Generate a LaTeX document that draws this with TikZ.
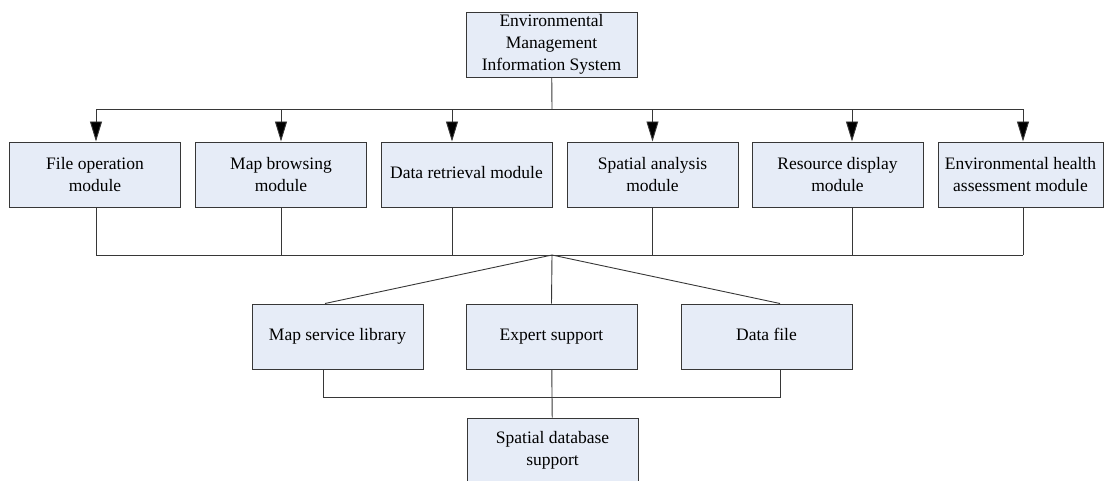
\documentclass[tikz,border=0pt]{standalone}
\usepackage{fontspec}
\setmainfont{Liberation Serif}
\usetikzlibrary{calc}
\usetikzlibrary{arrows.meta}
\usetikzlibrary{positioning}
\definecolor{boxfill}{RGB}{230,236,247}
\definecolor{boxline}{RGB}{55,55,55}

\begin{document}
\begin{tikzpicture}[x=1pt,y=-1pt,
  every node/.style={font=\fontsize{17.5}{22}\selectfont},
  modbox/.style={draw=boxline,fill=boxfill,line width=1pt,minimum width=171pt,minimum height=65pt,inner sep=0pt,align=center},
  link/.style={draw=boxline,line width=0.9pt},
  arr/.style={link,-{Triangle[width=12pt,length=20pt,fill=black]}}]
\useasboundingbox (0,0) rectangle (1104,480);

\node[modbox,anchor=center] (sys) at (551.5,44.5) {Environmental\\Management\\Information System};

\node[modbox,anchor=center] (m1) at (95,174.5) {File operation\\module};
\node[modbox,anchor=center] (m2) at (281,174.5) {Map browsing\\module};
\node[modbox,anchor=center] (m3) at (466.5,174.5) {\strut Data retrieval module};
\node[modbox,anchor=center] (m4) at (652.5,174.5) {Spatial analysis\\module};
\node[modbox,anchor=center] (m5) at (837.5,174.5) {Resource display\\module};
\node[modbox,anchor=center,minimum width=165pt] (m6) at (1020.5,174.5) {Environmental health\\assessment module};

\node[modbox,anchor=center] (lib) at (337.5,336.5) {\strut Map service library};
\node[modbox,anchor=center] (exp) at (551.5,336.5) {\strut Expert support};
\node[modbox,anchor=center] (dat) at (766.5,336.5) {\strut Data file};

\node[modbox,anchor=center] (db) at (552.5,450.5) {Spatial database\\support};

\coordinate (hub1) at (552,109);
\coordinate (hub2) at (552,255);

\draw[link] (sys) -- (hub1);
\draw[link] ([xshift=1]m1.north |- hub1) -- ([xshift=2.5]m6.north |- hub1);
\foreach \m/\dx in {m1/1,m2/0,m3/-14.5,m4/0,m5/14.5,m6/2.5}{
  \draw[arr] ([xshift=\dx]\m.north |- hub1) -- ([xshift=\dx]\m.north);
  \draw[link] ([xshift=\dx]\m.south) -- ([xshift=\dx]\m.south |- hub2);
}
\draw[link] ([xshift=1]m1.south |- hub2) -- ([xshift=2.5]m6.south |- hub2);

\draw[link] (hub2) -- ([xshift=-12.5]lib.north);
\draw[link] (hub2) -- (exp.north);
\draw[link] (hub2) -- ([xshift=13.5]dat.north);

\draw[link] ([xshift=-14.5]lib.south) -- ++(0,28) -| ([xshift=13.5]dat.south);
\draw[link] (exp) -- (db);

\end{tikzpicture}
\end{document}
